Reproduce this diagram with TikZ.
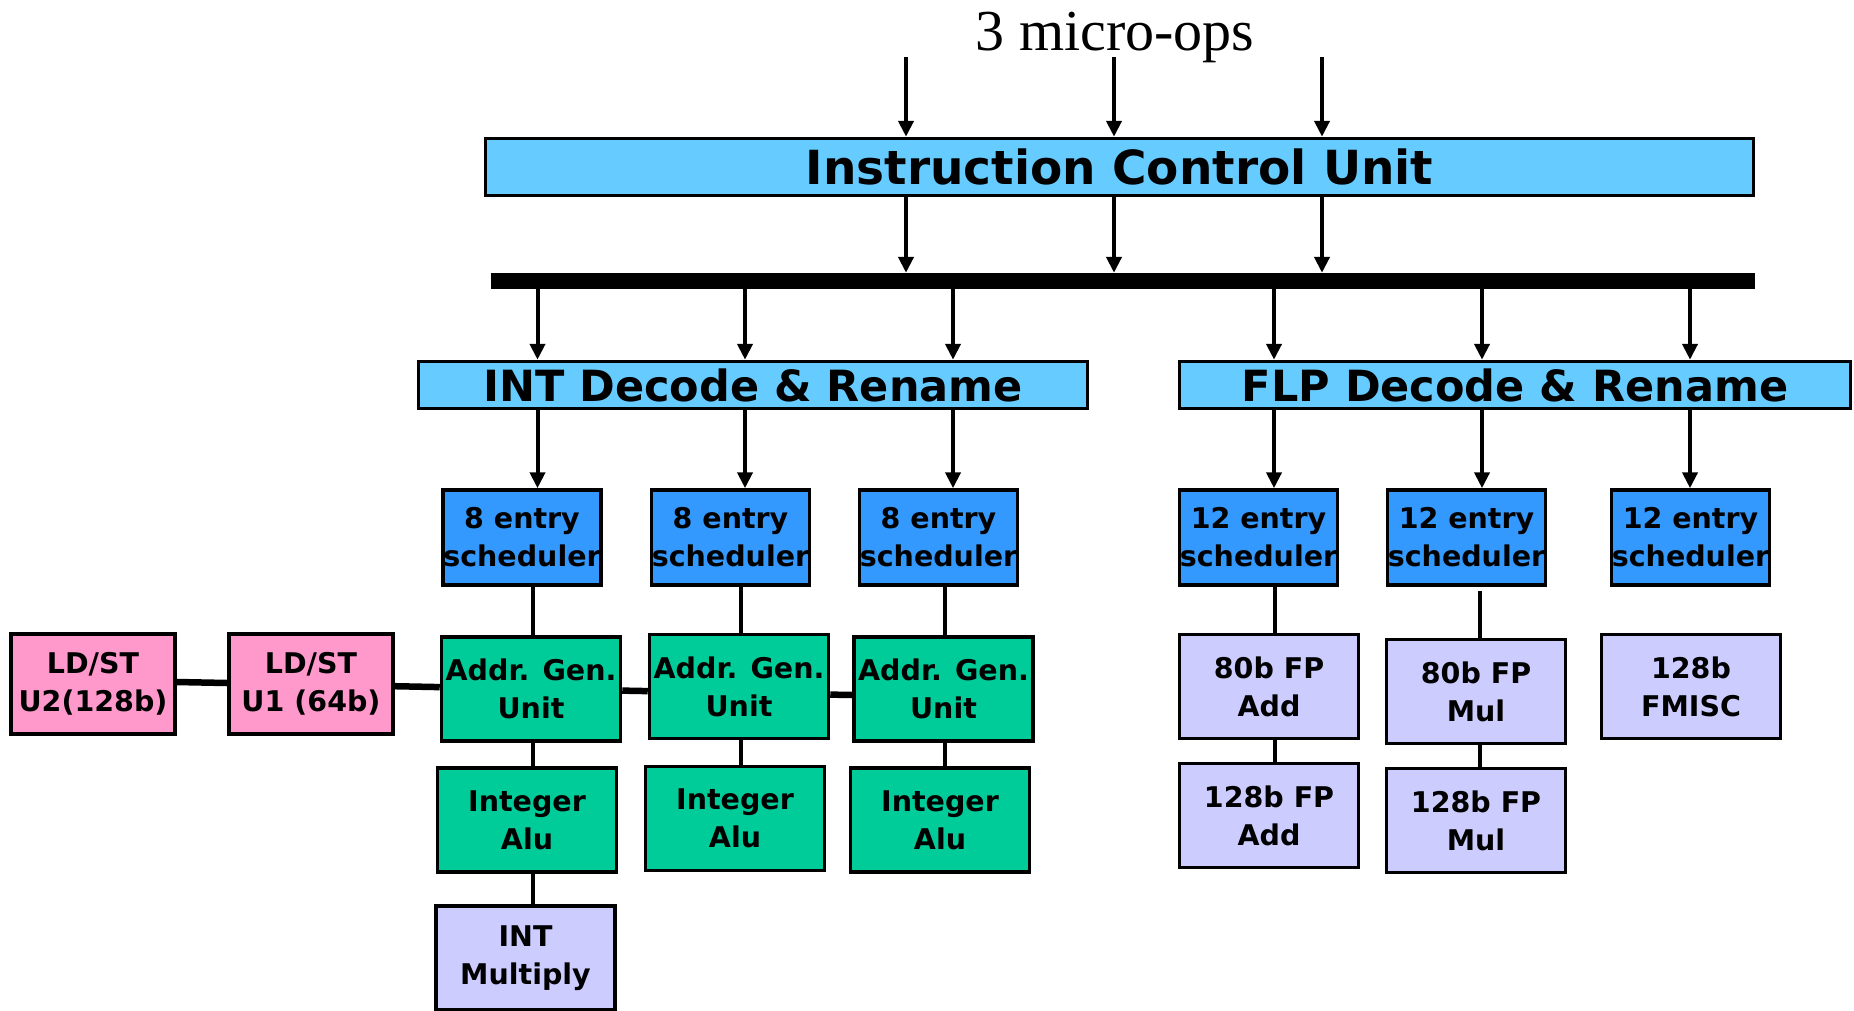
\documentclass[tikz,border=0pt]{standalone}
\usepackage{fontspec}
\setmainfont{Liberation Serif}
\newfontfamily\boxfont{DejaVu Sans}[BoldFont={DejaVu Sans Bold}]
\usetikzlibrary{arrows.meta}
\definecolor{icublue}{HTML}{66CCFF}
\definecolor{schblue}{HTML}{3399FF}
\definecolor{agugreen}{HTML}{00CC99}
\definecolor{ldpink}{HTML}{FF99CC}
\definecolor{fplav}{HTML}{CCCCFF}
\tikzset{
  box/.style={draw=black, line width=3.5pt, rectangle, inner sep=0pt, align=center,
    font=\boxfont\bfseries\fontsize{28.5}{38}\selectfont},
  bigbox/.style={draw=black, line width=3.5pt, rectangle, inner sep=0pt, fill=icublue},
  sched/.style={box, fill=schblue, minimum width=158pt, minimum height=95pt},
  unitg/.style={box, fill=agugreen, minimum width=179pt, minimum height=104pt},
  unitl/.style={box, fill=fplav, minimum width=179pt, minimum height=104pt},
  unitp/.style={box, fill=ldpink, minimum width=164pt, minimum height=100pt},
  arr/.style={line width=4pt, -{Triangle[length=16pt,width=15pt]}},
  conn/.style={line width=4pt},
  link/.style={line width=6.5pt}
}
\begin{document}
\begin{tikzpicture}[x=1pt,y=-1pt]
\useasboundingbox (0,0) rectangle (1854,1010);
\clip (0,0) rectangle (1854,1010);

% title
\node[font=\fontsize{58}{60}\selectfont, anchor=base] (title) at (1115,50) {3 micro-ops};

% top-level boxes
\node[bigbox, minimum width=1268pt, minimum height=57pt,
  font=\boxfont\bfseries\fontsize{47}{50}\selectfont] (icu) at (1119.5,167) {Instruction Control Unit};
\node[draw=none, fill=black, inner sep=0pt, minimum width=1264pt, minimum height=16pt] (bar) at (1123,281) {};
\node[bigbox, minimum width=669pt, minimum height=47pt,
  font=\boxfont\bfseries\fontsize{43}{46}\selectfont] (intdec) at (753,385) {INT Decode \& Rename};
\node[bigbox, minimum width=671pt, minimum height=47pt,
  font=\boxfont\bfseries\fontsize{43}{46}\selectfont] (flpdec) at (1515,385) {FLP Decode \& Rename};

% schedulers
\node[sched] (s1) at (522,537.5) {8 entry\\scheduler};
\node[sched] (s2) at (730.5,537.5) {8 entry\\scheduler};
\node[sched] (s3) at (938.5,537.5) {8 entry\\scheduler};
\node[sched] (s4) at (1258.5,537.5) {12 entry\\scheduler};
\node[sched] (s5) at (1466.5,537.5) {12 entry\\scheduler};
\node[sched] (s6) at (1690.5,537.5) {12 entry\\scheduler};

% integer side
\node[unitp] (ld2) at (93,684) {LD/ST\\U2(128b)};
\node[unitp] (ld1) at (311,684) {LD/ST\\U1 (64b)};
\node[unitg] (agu1) at (531,689) {Addr. Gen.\\Unit};
\node[unitg] (agu2) at (739,686.5) {Addr. Gen.\\Unit};
\node[unitg] (agu3) at (943.5,689) {Addr. Gen.\\Unit};
\node[unitg] (ia1) at (527,820) {Integer\\Alu};
\node[unitg] (ia2) at (735,818.5) {Integer\\Alu};
\node[unitg] (ia3) at (940,820) {Integer\\Alu};
\node[unitl] (mul) at (525.5,958) {INT\\Multiply};

% floating-point side
\node[unitl] (fa80) at (1269,686.5) {80b FP\\Add};
\node[unitl] (fa128) at (1269,815.5) {128b FP\\Add};
\node[unitl] (fm80) at (1476,691.5) {80b FP\\Mul};
\node[unitl] (fm128) at (1476,820.5) {128b FP\\Mul};
\node[unitl] (fmisc) at (1691,686.5) {128b\\FMISC};

% x positions of connectors
\coordinate (in1) at (906,57);
\coordinate (in2) at (1114,57);
\coordinate (in3) at (1322,57);
\coordinate (xa) at (537.5,0);
\coordinate (xb) at (745,0);
\coordinate (xc) at (953,0);
\coordinate (xd) at (1274,0);
\coordinate (xe) at (1482,0);
\coordinate (xf) at (1690,0);
\coordinate (ya) at (533,0);
\coordinate (yb) at (741,0);
\coordinate (yc) at (944.5,0);
\coordinate (yd) at (1275,0);
\coordinate (ye) at (1480,0);

% input arrows
\draw[arr] (in1) -- (icu.north -| in1);
\draw[arr] (in2) -- (icu.north -| in2);
\draw[arr] (in3) -- (icu.north -| in3);
% ICU to bar
\draw[arr] (icu.south -| in1) -- (bar.north -| in1);
\draw[arr] (icu.south -| in2) -- (bar.north -| in2);
\draw[arr] (icu.south -| in3) -- (bar.north -| in3);
% bar to decoders
\draw[arr] (bar.south -| xa) -- (intdec.north -| xa);
\draw[arr] (bar.south -| xb) -- (intdec.north -| xb);
\draw[arr] (bar.south -| xc) -- (intdec.north -| xc);
\draw[arr] (bar.south -| xd) -- (flpdec.north -| xd);
\draw[arr] (bar.south -| xe) -- (flpdec.north -| xe);
\draw[arr] (bar.south -| xf) -- (flpdec.north -| xf);
% decoders to schedulers
\draw[arr] (intdec.south -| xa) -- (s1.north -| xa);
\draw[arr] (intdec.south -| xb) -- (s2.north -| xb);
\draw[arr] (intdec.south -| xc) -- (s3.north -| xc);
\draw[arr] (flpdec.south -| xd) -- (s4.north -| xd);
\draw[arr] (flpdec.south -| xe) -- (s5.north -| xe);
\draw[arr] (flpdec.south -| xf) -- (s6.north -| xf);

% scheduler to units
\draw[conn] (s1.south -| ya) -- (agu1.north -| ya);
\draw[conn] (s2.south -| yb) -- (agu2.north -| yb);
\draw[conn] (s3.south -| yc) -- (agu3.north -| yc);
\draw[conn] (agu1.south -| ya) -- (ia1.north -| ya);
\draw[conn] (agu2.south -| yb) -- (ia2.north -| yb);
\draw[conn] (agu3.south -| yc) -- (ia3.north -| yc);
\draw[conn] (ia1.south -| ya) -- (mul.north -| ya);
\draw[conn] (s4.south -| yd) -- (fa80.north -| yd);
\draw[conn] (fa80.south -| yd) -- (fa128.north -| yd);
\draw[conn] ([yshift=-4pt]s5.south -| ye) -- (fm80.north -| ye);
\draw[conn] (fm80.south -| ye) -- (fm128.north -| ye);

% load/store link
\draw[link] ([yshift=2pt]ld2.east) -- ([yshift=1pt]ld1.west);
\draw[link] ([yshift=-2.2pt]ld1.east) -- ([yshift=1.9pt]agu1.west);
\draw[link] ([yshift=-1.6pt]agu1.east) -- ([yshift=-4.6pt]agu2.west);
\draw[link] ([yshift=-8.1pt]agu2.east) -- ([yshift=-6pt]agu3.west);
\end{tikzpicture}
\end{document}
